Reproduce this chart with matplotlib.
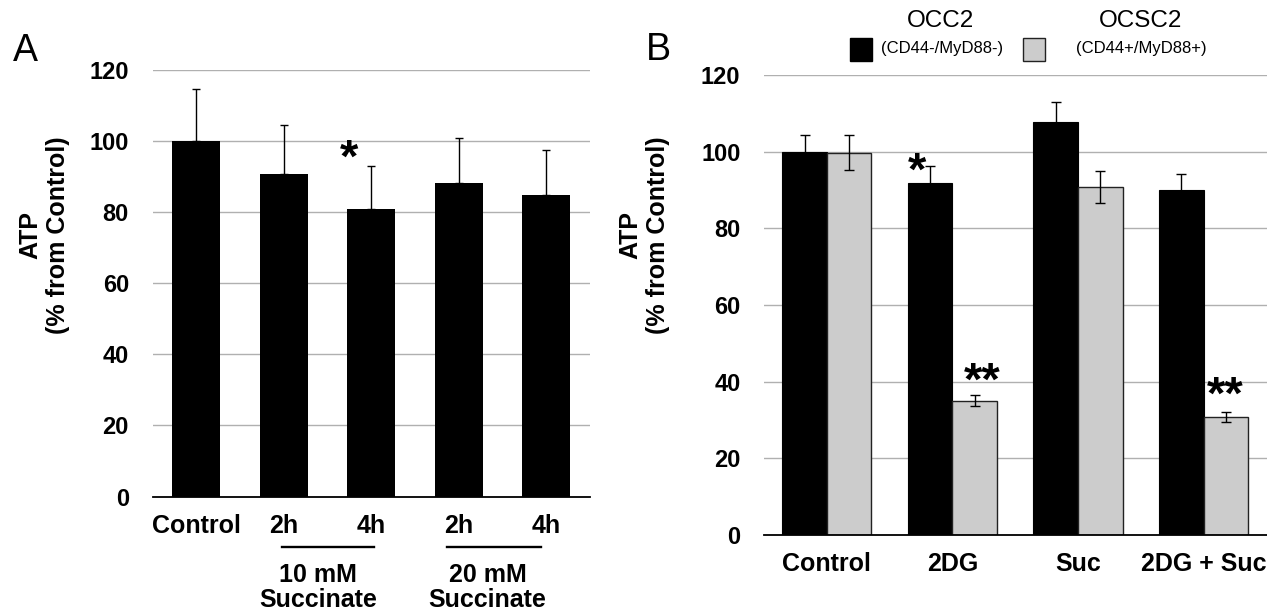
import numpy as np
import matplotlib
matplotlib.use("Agg")
import matplotlib.pyplot as plt
from matplotlib.patches import Rectangle

plt.rcParams['font.family'] = ['Liberation Sans', 'DejaVu Sans']

# panel A data
a_labels = ["Control", "2h", "4h", "2h", "4h"]
a_values = [100, 90.8, 80.9, 88.1, 84.9]
a_err = [14.6, 13.7, 11.9, 12.6, 12.5]

# panel B data
b_groups = ["Control", "2DG", "Suc", "2DG + Suc"]
occ2 = [99.8, 91.8, 107.8, 89.9]
occ2_err = [4.6, 4.5, 5.2, 4.2]
ocsc2 = [99.7, 35.0, 90.8, 30.9]
ocsc2_err = [4.6, 1.4, 4.2, 1.3]

W, H = 1267, 614
fig = plt.figure(figsize=(W / 100, H / 100), dpi=100)


def px_axes(l, r, b, t):
    return fig.add_axes([l / W, 1 - b / H, (r - l) / W, (b - t) / H])


def style(ax, pad_y, pad_x):
    ax.set_ylim(0, 120)
    ax.set_yticks(np.arange(0, 121, 20))
    ax.yaxis.grid(True, color='#b0b0b0', lw=1)
    ax.set_axisbelow(True)
    for s in ['left', 'top', 'right']:
        ax.spines[s].set_visible(False)
    ax.spines['bottom'].set_linewidth(1.3)
    ax.tick_params(length=0)
    ax.tick_params(axis='y', pad=pad_y)
    ax.tick_params(axis='x', pad=pad_x)
    for t in ax.get_yticklabels():
        t.set_fontweight('bold')
        t.set_fontsize(17)
    for t in ax.get_xticklabels():
        t.set_fontweight('bold')
        t.set_fontsize(18)


star_kw = dict(ha='center', va='center', fontsize=34, fontweight='bold')

# ---- A ----
axA = px_axes(152.6, 590, 496.5, 69.7)
xa = np.arange(len(a_labels))
axA.bar(xa, a_values, width=0.55, color='black')
axA.errorbar(xa, a_values, yerr=[np.zeros(len(a_err)), a_err], fmt='none',
             ecolor='black', elinewidth=1, capsize=3, capthick=1)
axA.set_xlim(-0.5, 4.5)
axA.set_xticks(xa)
axA.set_xticklabels(a_labels)
style(axA, 17, 12.5)
axA.text(1.745, 94.6, "*", **star_kw)

tr = axA.get_xaxis_transform()
axA.plot([0.977, 2.034], [-0.118, -0.118], color='black', lw=1.7, transform=tr, clip_on=False)
axA.plot([2.86, 3.94], [-0.118, -0.118], color='black', lw=1.7, transform=tr, clip_on=False)
axA.text(1.39, -0.213, "10 mM\nSuccinate", transform=tr, ha='center', va='center',
         fontsize=18, fontweight='bold', linespacing=1.05)
axA.text(3.33, -0.213, "20 mM\nSuccinate", transform=tr, ha='center', va='center',
         fontsize=18, fontweight='bold', linespacing=1.05)

fig.text(44 / W, 1 - 235 / H, "ATP\n(% from Control)", rotation=90, ha='center',
         va='center', fontsize=18, fontweight='bold', multialignment='center')
fig.text(25 / W, 1 - 51 / H, "A", ha='center', va='center', fontsize=27)

# ---- B ----
axB = px_axes(764, 1266.5, 535, 75)
xb = np.arange(len(b_groups))
bw = 0.355
axB.bar(xb - bw / 2, occ2, width=bw, color='black', edgecolor='black', lw=0.8)
axB.bar(xb + bw / 2, ocsc2, width=bw, color='#cccccc', edgecolor='#222222', lw=1)
axB.errorbar(xb - bw / 2, occ2, yerr=occ2_err, fmt='none', ecolor='black',
             elinewidth=1, capsize=3.5, capthick=1)
axB.errorbar(xb + bw / 2, ocsc2, yerr=ocsc2_err, fmt='none', ecolor='black',
             elinewidth=1, capsize=3.5, capthick=1)
axB.set_xlim(-0.5, 3.5)
axB.set_xticks(xb)
axB.set_xticklabels(b_groups)
style(axB, 17, 12.5)
axB.text(0.717, 94.4, "*", **star_kw)
axB.text(1.241, 39.8, "**", **star_kw)
axB.text(3.17, 36.0, "**", **star_kw)

fig.text(644.5 / W, 1 - 235 / H, "ATP\n(% from Control)", rotation=90, ha='center',
         va='center', fontsize=18, fontweight='bold', multialignment='center')
fig.text(658 / W, 1 - 50 / H, "B", ha='center', va='center', fontsize=27)

# legend
fig.patches.append(Rectangle((850 / W, 1 - 60.5 / H), 22 / W, 22.5 / H, facecolor='black',
                             edgecolor='black', transform=fig.transFigure))
fig.patches.append(Rectangle((1023 / W, 1 - 60.5 / H), 22 / W, 22.5 / H, facecolor='#cccccc',
                             edgecolor='#222222', lw=1, transform=fig.transFigure))
fig.text(941 / W, 1 - 21 / H, "OCC2", ha='center', va='center', fontsize=17.5)
fig.text(942 / W, 1 - 48 / H, "(CD44-/MyD88-)", ha='center', va='center', fontsize=12)
fig.text(1141 / W, 1 - 21 / H, "OCSC2", ha='center', va='center', fontsize=17.5)
fig.text(1141 / W, 1 - 48 / H, "(CD44+/MyD88+)", ha='center', va='center', fontsize=12)

fig.savefig("out.png", dpi=100)
